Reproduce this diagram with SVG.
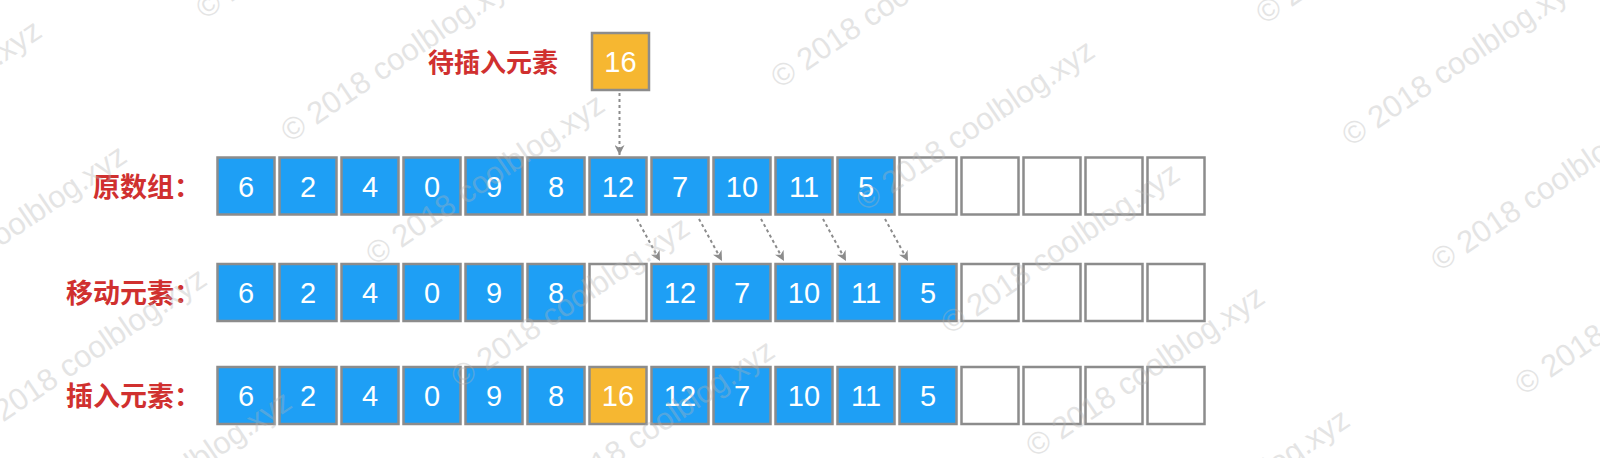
<svg xmlns="http://www.w3.org/2000/svg" width="1600" height="458" viewBox="0 0 1600 458">
<defs>
<style>
.b{fill:#1E9FF5;stroke:#8C8C8C;stroke-width:2.5}
.o{fill:#F6B731;stroke:#8C8C8C;stroke-width:2.5}
.e{fill:#FFFFFF;stroke:#8C8C8C;stroke-width:2.5}
.n{font-family:"Liberation Sans",Arial,sans-serif;font-size:29px;fill:#FFFFFF;text-anchor:middle}
.l{font-family:"Noto Sans CJK SC","Noto Sans",sans-serif;font-size:27px;font-weight:bold;fill:#D0302F;text-anchor:end}
.c{fill:none;stroke:#8C8C8C;stroke-width:2;stroke-dasharray:3 3}
.w{font-family:"Liberation Sans",Arial,sans-serif;font-size:31px;fill:#B4B4B4;opacity:0.35}
</style>
<marker id="ah" viewBox="0 0 10 10" refX="10" refY="5" markerWidth="10" markerHeight="10" markerUnits="userSpaceOnUse" orient="auto">
<path d="M0,0 L10,5 L0,10 L3,5 z" fill="#8C8C8C"/>
</marker>
</defs>
<rect width="1600" height="458" fill="#FFFFFF"/>

<g id="labels">
<text class="l" x="558" y="72" style="font-size:26px">待插入元素</text>
<text class="l" x="201" y="196.5">原数组：</text>
<text class="l" x="201" y="302.5">移动元素：</text>
<text class="l" x="201" y="405.5">插入元素：</text>
</g>

<g id="pending">
<rect class="o" x="592" y="33" width="57" height="57"/>
<text class="n" x="620.5" y="72">16</text>
</g>

<g id="row1">
<rect class="b" x="217.5" y="157.5" width="57" height="57"/><text class="n" x="246" y="196.5">6</text>
<rect class="b" x="279.5" y="157.5" width="57" height="57"/><text class="n" x="308" y="196.5">2</text>
<rect class="b" x="341.5" y="157.5" width="57" height="57"/><text class="n" x="370" y="196.5">4</text>
<rect class="b" x="403.5" y="157.5" width="57" height="57"/><text class="n" x="432" y="196.5">0</text>
<rect class="b" x="465.5" y="157.5" width="57" height="57"/><text class="n" x="494" y="196.5">9</text>
<rect class="b" x="527.5" y="157.5" width="57" height="57"/><text class="n" x="556" y="196.5">8</text>
<rect class="b" x="589.5" y="157.5" width="57" height="57"/><text class="n" x="618" y="196.5">12</text>
<rect class="b" x="651.5" y="157.5" width="57" height="57"/><text class="n" x="680" y="196.5">7</text>
<rect class="b" x="713.5" y="157.5" width="57" height="57"/><text class="n" x="742" y="196.5">10</text>
<rect class="b" x="775.5" y="157.5" width="57" height="57"/><text class="n" x="804" y="196.5">11</text>
<rect class="b" x="837.5" y="157.5" width="57" height="57"/><text class="n" x="866" y="196.5">5</text>
<rect class="e" x="899.5" y="157.5" width="57" height="57"/>
<rect class="e" x="961.5" y="157.5" width="57" height="57"/>
<rect class="e" x="1023.5" y="157.5" width="57" height="57"/>
<rect class="e" x="1085.5" y="157.5" width="57" height="57"/>
<rect class="e" x="1147.5" y="157.5" width="57" height="57"/>
</g>

<g id="row2">
<rect class="b" x="217.5" y="264" width="57" height="57"/><text class="n" x="246" y="303">6</text>
<rect class="b" x="279.5" y="264" width="57" height="57"/><text class="n" x="308" y="303">2</text>
<rect class="b" x="341.5" y="264" width="57" height="57"/><text class="n" x="370" y="303">4</text>
<rect class="b" x="403.5" y="264" width="57" height="57"/><text class="n" x="432" y="303">0</text>
<rect class="b" x="465.5" y="264" width="57" height="57"/><text class="n" x="494" y="303">9</text>
<rect class="b" x="527.5" y="264" width="57" height="57"/><text class="n" x="556" y="303">8</text>
<rect class="e" x="589.5" y="264" width="57" height="57"/>
<rect class="b" x="651.5" y="264" width="57" height="57"/><text class="n" x="680" y="303">12</text>
<rect class="b" x="713.5" y="264" width="57" height="57"/><text class="n" x="742" y="303">7</text>
<rect class="b" x="775.5" y="264" width="57" height="57"/><text class="n" x="804" y="303">10</text>
<rect class="b" x="837.5" y="264" width="57" height="57"/><text class="n" x="866" y="303">11</text>
<rect class="b" x="899.5" y="264" width="57" height="57"/><text class="n" x="928" y="303">5</text>
<rect class="e" x="961.5" y="264" width="57" height="57"/>
<rect class="e" x="1023.5" y="264" width="57" height="57"/>
<rect class="e" x="1085.5" y="264" width="57" height="57"/>
<rect class="e" x="1147.5" y="264" width="57" height="57"/>
</g>

<g id="row3">
<rect class="b" x="217.5" y="367" width="57" height="57"/><text class="n" x="246" y="406">6</text>
<rect class="b" x="279.5" y="367" width="57" height="57"/><text class="n" x="308" y="406">2</text>
<rect class="b" x="341.5" y="367" width="57" height="57"/><text class="n" x="370" y="406">4</text>
<rect class="b" x="403.5" y="367" width="57" height="57"/><text class="n" x="432" y="406">0</text>
<rect class="b" x="465.5" y="367" width="57" height="57"/><text class="n" x="494" y="406">9</text>
<rect class="b" x="527.5" y="367" width="57" height="57"/><text class="n" x="556" y="406">8</text>
<rect class="o" x="589.5" y="367" width="57" height="57"/><text class="n" x="618" y="406">16</text>
<rect class="b" x="651.5" y="367" width="57" height="57"/><text class="n" x="680" y="406">12</text>
<rect class="b" x="713.5" y="367" width="57" height="57"/><text class="n" x="742" y="406">7</text>
<rect class="b" x="775.5" y="367" width="57" height="57"/><text class="n" x="804" y="406">10</text>
<rect class="b" x="837.5" y="367" width="57" height="57"/><text class="n" x="866" y="406">11</text>
<rect class="b" x="899.5" y="367" width="57" height="57"/><text class="n" x="928" y="406">5</text>
<rect class="e" x="961.5" y="367" width="57" height="57"/>
<rect class="e" x="1023.5" y="367" width="57" height="57"/>
<rect class="e" x="1085.5" y="367" width="57" height="57"/>
<rect class="e" x="1147.5" y="367" width="57" height="57"/>
</g>

<g id="connectors">
<line class="c" x1="619.5" y1="93" x2="619.5" y2="155" marker-end="url(#ah)"/>
<line class="c" x1="637" y1="219" x2="660" y2="261" marker-end="url(#ah)"/>
<line class="c" x1="699" y1="219" x2="722" y2="261" marker-end="url(#ah)"/>
<line class="c" x1="761" y1="219" x2="784" y2="261" marker-end="url(#ah)"/>
<line class="c" x1="823" y1="219" x2="846" y2="261" marker-end="url(#ah)"/>
<line class="c" x1="885" y1="219" x2="908" y2="261" marker-end="url(#ah)"/>
</g>

<g id="watermarks">
<text class="w" x="-188" y="192" transform="rotate(-34 -188 192)">© 2018 coolblog.xyz</text>
<text class="w" x="-103" y="317" transform="rotate(-34 -103 317)">© 2018 coolblog.xyz</text>
<text class="w" x="-23" y="440" transform="rotate(-34 -23 440)">© 2018 coolblog.xyz</text>
<text class="w" x="62" y="563" transform="rotate(-34 62 563)">© 2018 coolblog.xyz</text>
<text class="w" x="205" y="20" transform="rotate(-34 205 20)">© 2018 coolblog.xyz</text>
<text class="w" x="290" y="143" transform="rotate(-34 290 143)">© 2018 coolblog.xyz</text>
<text class="w" x="375" y="266" transform="rotate(-34 375 266)">© 2018 coolblog.xyz</text>
<text class="w" x="460" y="389" transform="rotate(-34 460 389)">© 2018 coolblog.xyz</text>
<text class="w" x="545" y="512" transform="rotate(-34 545 512)">© 2018 coolblog.xyz</text>
<text class="w" x="780" y="89" transform="rotate(-34 780 89)">© 2018 coolblog.xyz</text>
<text class="w" x="865" y="212" transform="rotate(-34 865 212)">© 2018 coolblog.xyz</text>
<text class="w" x="950" y="335" transform="rotate(-34 950 335)">© 2018 coolblog.xyz</text>
<text class="w" x="1035" y="458" transform="rotate(-34 1035 458)">© 2018 coolblog.xyz</text>
<text class="w" x="1120" y="581" transform="rotate(-34 1120 581)">© 2018 coolblog.xyz</text>
<text class="w" x="1265" y="25" transform="rotate(-34 1265 25)">© 2018 coolblog.xyz</text>
<text class="w" x="1351" y="147" transform="rotate(-34 1351 147)">© 2018 coolblog.xyz</text>
<text class="w" x="1440" y="272" transform="rotate(-34 1440 272)">© 2018 coolblog.xyz</text>
<text class="w" x="1524" y="396" transform="rotate(-34 1524 396)">© 2018 coolblog.xyz</text>
</g>
</svg>
